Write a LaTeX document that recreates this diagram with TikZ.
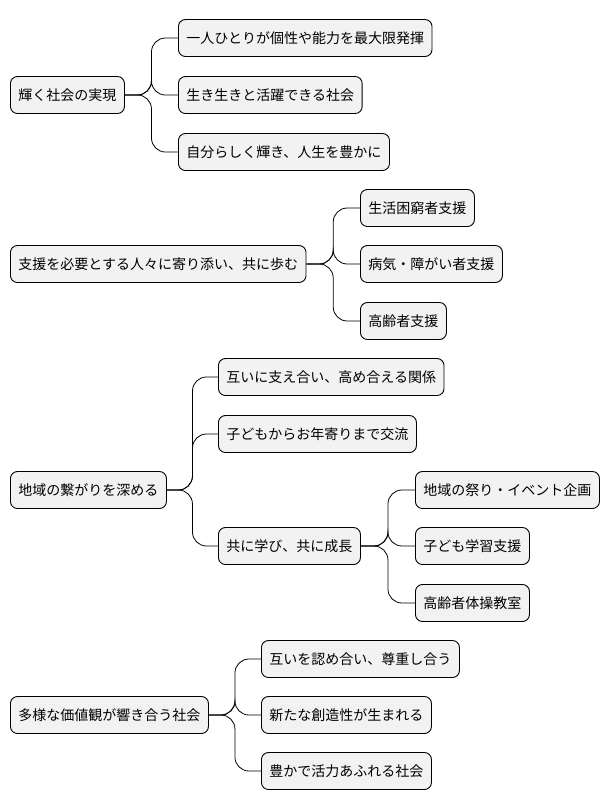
\documentclass[tikz,border=0pt]{standalone}
\usepackage{fontspec}
\setmainfont{Noto Sans CJK JP}
\begin{document}
\begin{tikzpicture}[x=1pt,y=-1pt,
  n/.style={draw=black,line width=0.9pt,fill=black!5,rounded corners=7pt,anchor=west,minimum height=37pt,inner xsep=8pt,font=\fontsize{14}{16}\selectfont},
  c/.style={draw=black,line width=0.8pt,rounded corners=14pt}]
\useasboundingbox (0,0) rectangle (614,809);
\node[n] (a) at (10,95) {輝く社会の実現};
\node[n] (a1) at (178,38) {一人ひとりが個性や能力を最大限発揮};
\node[n] (a2) at (178,95) {生き生きと活躍できる社会};
\node[n] (a3) at (178,152) {自分らしく輝き、人生を豊かに};
\node[n] (b) at (10,264) {支援を必要とする人々に寄り添い、共に歩む};
\node[n] (b1) at (360,208) {生活困窮者支援};
\node[n] (b2) at (360,264) {病気・障がい者支援};
\node[n] (b3) at (360,321) {高齢者支援};
\node[n] (c) at (10,490) {地域の繋がりを深める};
\node[n] (c1) at (218,377) {互いに支え合い、高め合える関係};
\node[n] (c2) at (218,434) {子どもからお年寄りまで交流};
\node[n] (c3) at (218,546) {共に学び、共に成長};
\node[n] (c31) at (415,490) {地域の祭り・イベント企画};
\node[n] (c32) at (415,546) {子ども学習支援};
\node[n] (c33) at (415,603) {高齢者体操教室};
\node[n] (d) at (10,715) {多様な価値観が響き合う社会};
\node[n] (d1) at (261,659) {互いを認め合い、尊重し合う};
\node[n] (d2) at (261,715) {新たな創造性が生まれる};
\node[n] (d3) at (261,771) {豊かで活力あふれる社会};
\foreach \p/\k in {a/a1,a/a2,a/a3,b/b1,b/b2,b/b3,c/c1,c/c2,c/c3,c3/c31,c3/c32,c3/c33,d/d1,d/d2,d/d3}{
  \path (\p.east) -- (\k.west) coordinate[pos=0.5] (m);
  \draw[c] (\p.east) -- (m |- \p.east) |- (\k.west);
}
\end{tikzpicture}
\end{document}
